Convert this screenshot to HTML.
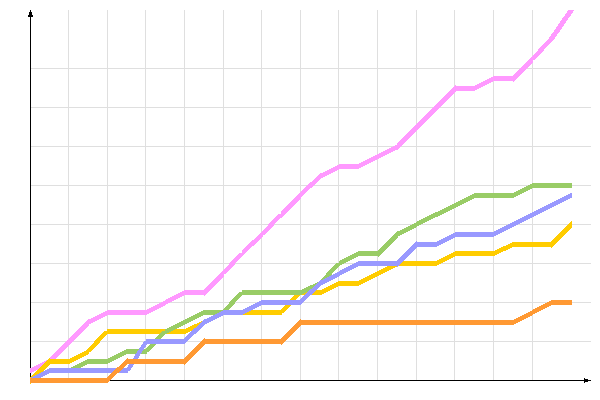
<!DOCTYPE html>
<html><head><meta charset="utf-8"><title>chart</title>
<style>html,body{margin:0;padding:0;background:#fff;font-family:"Liberation Sans",sans-serif}svg{display:block}</style>
</head><body>
<svg width="600" height="400" viewBox="0 0 600 400" shape-rendering="crispEdges">
<rect width="600" height="400" fill="#ffffff"/>
<path fill="#000000" d="M28 15h5v2h-5zM29 12h3v3h-3zM30 10h1v2h-1zM30 17h1v351h-1zM30 373h1v4h-1zM110 380h481v1h-481zM584 378h1v1h-1zM584 382h1v1h-1zM584 379h4v1h-4zM584 381h4v1h-4z"/>
<path fill="#ffcc00" d="M30 377h1v1h-1zM30 383h1v1h-1zM31 376h2v1h-2zM32 375h3v1h-3zM33 374h4v1h-4zM34 373h5v1h-5zM35 372h6v1h-6zM36 371h7v1h-7zM37 370h7v1h-7zM38 369h7v1h-7zM39 368h7v1h-7zM40 367h7v1h-7zM41 366h7v1h-7zM42 365h7v1h-7zM43 364h7v1h-7zM44 363h26v1h-26zM45 362h27v1h-27zM46 361h28v1h-28zM47 360h29v1h-29zM48 359h30v1h-30zM49 358h1v1h-1zM70 358h10v1h-10zM72 357h10v1h-10zM74 356h10v1h-10zM76 355h10v1h-10zM78 354h10v1h-10zM80 353h9v1h-9zM82 352h7v1h-7zM84 351h7v1h-7zM86 350h6v1h-6zM87 349h6v1h-6zM88 348h6v1h-6zM89 347h6v1h-6zM90 346h6v1h-6zM91 345h6v1h-6zM92 344h6v1h-6zM93 343h6v1h-6zM94 341h6v2h-6zM95 340h6v1h-6zM96 339h6v1h-6zM97 338h6v1h-6zM98 337h6v1h-6zM99 336h6v1h-6zM100 335h6v1h-6zM101 334h6v1h-6zM102 333h58v1h-58zM103 332h58v1h-58zM104 331h58v1h-58zM107 329h58v2h-58zM167 333h19v1h-19zM169 332h19v1h-19zM171 331h19v1h-19zM173 330h19v1h-19zM175 329h18v1h-18zM186 328h8v1h-8zM188 327h8v1h-8zM190 326h7v1h-7zM192 325h6v1h-6zM194 324h5v1h-5zM197 323h3v1h-3zM199 322h2v1h-2zM201 321h1v1h-1zM243 314h39v1h-39zM245 313h37v1h-37zM247 312h37v1h-37zM249 311h36v1h-36zM251 310h35v1h-35zM281 309h6v1h-6zM282 308h6v1h-6zM283 307h6v1h-6zM284 306h6v1h-6zM285 305h6v1h-6zM290 299h6v1h-6zM291 298h6v1h-6zM292 297h6v1h-6zM293 296h6v1h-6zM294 295h6v1h-6zM302 294h3v1h-3zM304 293h2v1h-2zM306 292h1v1h-1zM312 294h10v1h-10zM313 293h11v1h-11zM314 292h12v1h-12zM315 291h13v1h-13zM316 290h14v1h-14zM322 289h10v1h-10zM324 288h10v1h-10zM326 287h10v1h-10zM328 286h10v1h-10zM330 285h29v1h-29zM332 284h29v1h-29zM334 283h29v1h-29zM336 282h29v1h-29zM338 281h29v1h-29zM359 280h10v1h-10zM361 279h10v1h-10zM363 278h10v1h-10zM365 277h10v1h-10zM367 276h10v1h-10zM369 275h10v1h-10zM371 274h10v1h-10zM373 273h10v1h-10zM375 272h10v1h-10zM377 271h10v1h-10zM379 270h10v1h-10zM381 269h10v1h-10zM383 268h10v1h-10zM385 267h10v1h-10zM387 266h10v1h-10zM399 265h38v1h-38zM400 264h39v1h-39zM401 263h40v1h-40zM402 262h41v1h-41zM403 261h42v1h-42zM437 260h10v1h-10zM439 259h10v1h-10zM441 258h10v1h-10zM443 257h10v1h-10zM445 256h10v1h-10zM447 255h48v1h-48zM449 254h48v1h-48zM451 253h48v1h-48zM453 252h48v1h-48zM455 251h48v1h-48zM495 250h11v1h-11zM497 249h11v1h-11zM499 248h11v1h-11zM501 247h11v1h-11zM503 246h50v1h-50zM506 245h48v1h-48zM508 244h47v1h-47zM510 243h46v1h-46zM512 242h45v1h-45zM551 247h1v1h-1zM551 241h7v1h-7zM552 240h7v1h-7zM553 239h7v1h-7zM554 238h7v1h-7zM555 237h7v1h-7zM556 236h7v1h-7zM557 235h7v1h-7zM558 234h7v1h-7zM559 233h7v1h-7zM560 232h7v1h-7zM561 231h7v1h-7zM562 230h7v1h-7zM563 229h7v1h-7zM564 228h7v1h-7zM565 227h7v1h-7zM566 226h6v1h-6zM567 225h5v1h-5zM568 224h4v1h-4zM569 223h3v1h-3zM570 222h2v1h-2zM571 221h1v1h-1z"/>
<path fill="#ff99ff" d="M30 372h2v1h-2zM30 371h4v1h-4zM30 370h6v1h-6zM30 369h8v1h-8zM30 368h9v1h-9zM32 367h8v1h-8zM34 366h7v1h-7zM36 365h6v1h-6zM38 364h5v1h-5zM40 363h4v1h-4zM42 362h3v1h-3zM44 361h2v1h-2zM46 360h1v1h-1zM50 358h6v1h-6zM50 357h7v1h-7zM51 356h7v1h-7zM52 355h7v1h-7zM53 354h7v1h-7zM54 353h7v1h-7zM55 352h7v1h-7zM56 351h7v1h-7zM57 350h7v1h-7zM58 349h7v1h-7zM59 348h7v1h-7zM60 347h7v1h-7zM61 346h7v1h-7zM62 345h7v1h-7zM63 344h7v1h-7zM64 343h7v1h-7zM65 342h7v1h-7zM66 341h7v1h-7zM67 340h7v1h-7zM68 339h7v1h-7zM69 338h7v1h-7zM70 337h7v1h-7zM71 336h7v1h-7zM72 335h7v1h-7zM73 334h7v1h-7zM74 333h7v1h-7zM75 332h7v1h-7zM76 331h7v1h-7zM77 330h7v1h-7zM78 329h7v1h-7zM79 328h7v1h-7zM80 327h7v1h-7zM81 326h7v1h-7zM82 325h7v1h-7zM83 324h6v1h-6zM84 323h7v1h-7zM85 322h8v1h-8zM86 321h9v1h-9zM87 320h10v1h-10zM88 319h11v1h-11zM91 318h10v1h-10zM93 317h10v1h-10zM95 316h10v1h-10zM97 315h10v1h-10zM99 314h48v1h-48zM101 313h48v1h-48zM103 312h48v1h-48zM105 311h48v1h-48zM107 310h48v1h-48zM147 309h10v1h-10zM149 308h10v1h-10zM151 307h10v1h-10zM153 306h10v1h-10zM155 305h10v1h-10zM157 304h9v1h-9zM159 303h9v1h-9zM161 302h9v1h-9zM163 301h9v1h-9zM165 300h9v1h-9zM166 299h10v1h-10zM168 298h10v1h-10zM170 297h10v1h-10zM172 296h10v1h-10zM174 295h10v1h-10zM176 294h30v1h-30zM178 293h29v1h-29zM180 292h28v1h-28zM182 291h27v1h-27zM184 290h26v1h-26zM204 295h1v1h-1zM204 289h7v1h-7zM205 288h7v1h-7zM206 287h7v1h-7zM207 286h7v1h-7zM208 285h7v1h-7zM209 284h7v1h-7zM210 283h7v1h-7zM211 282h7v1h-7zM212 281h7v1h-7zM213 280h7v1h-7zM214 279h7v1h-7zM215 278h7v1h-7zM216 277h7v1h-7zM217 276h7v1h-7zM218 275h6v1h-6zM219 274h5v1h-5zM220 273h6v1h-6zM221 272h6v1h-6zM222 271h6v1h-6zM223 270h6v1h-6zM224 269h6v1h-6zM225 268h6v1h-6zM226 267h6v1h-6zM227 266h6v1h-6zM228 265h6v1h-6zM229 263h6v2h-6zM230 262h6v1h-6zM231 261h6v1h-6zM232 260h6v1h-6zM233 259h6v1h-6zM234 258h6v1h-6zM235 257h6v1h-6zM236 256h6v1h-6zM237 255h6v1h-6zM238 254h6v1h-6zM239 253h6v1h-6zM242 252h4v1h-4zM242 251h5v1h-5zM242 250h6v1h-6zM243 249h6v1h-6zM244 248h6v1h-6zM245 247h6v1h-6zM246 246h6v1h-6zM247 245h7v1h-7zM248 244h7v1h-7zM249 243h7v1h-7zM250 242h7v1h-7zM251 241h7v1h-7zM252 240h7v1h-7zM254 239h6v1h-6zM255 238h6v1h-6zM256 237h6v1h-6zM257 236h6v1h-6zM258 235h5v1h-5zM259 234h6v1h-6zM260 233h6v1h-6zM261 232h6v1h-6zM262 231h6v1h-6zM263 230h6v1h-6zM264 229h6v1h-6zM265 228h6v1h-6zM266 227h6v1h-6zM267 226h6v1h-6zM268 224h6v2h-6zM269 223h6v1h-6zM270 222h6v1h-6zM271 221h6v1h-6zM272 220h6v1h-6zM273 219h6v1h-6zM274 218h6v1h-6zM275 217h7v1h-7zM276 216h7v1h-7zM277 215h7v1h-7zM278 214h7v1h-7zM281 213h5v1h-5zM281 212h6v1h-6zM281 211h7v1h-7zM282 210h7v1h-7zM283 209h7v1h-7zM284 208h7v1h-7zM285 207h7v1h-7zM286 206h7v1h-7zM287 205h7v1h-7zM288 204h7v1h-7zM289 203h7v1h-7zM290 202h7v1h-7zM291 201h7v1h-7zM292 200h7v1h-7zM293 199h7v1h-7zM294 198h7v1h-7zM295 197h6v1h-6zM296 196h6v1h-6zM297 195h6v1h-6zM298 194h6v1h-6zM299 193h6v1h-6zM300 192h6v1h-6zM301 191h6v1h-6zM302 190h6v1h-6zM303 189h6v1h-6zM304 188h6v1h-6zM305 187h7v1h-7zM306 186h7v1h-7zM307 185h7v1h-7zM308 184h7v1h-7zM309 183h7v1h-7zM310 182h7v1h-7zM312 181h6v1h-6zM313 180h6v1h-6zM314 179h6v1h-6zM315 178h6v1h-6zM316 177h7v1h-7zM317 176h8v1h-8zM318 175h9v1h-9zM319 174h10v1h-10zM320 173h11v1h-11zM323 172h10v1h-10zM325 171h10v1h-10zM327 170h10v1h-10zM329 169h10v1h-10zM331 168h28v1h-28zM333 167h28v1h-28zM335 166h28v1h-28zM337 165h28v1h-28zM339 164h28v1h-28zM359 163h10v1h-10zM361 162h10v1h-10zM363 161h10v1h-10zM365 160h10v1h-10zM367 159h10v1h-10zM369 158h10v1h-10zM371 157h10v1h-10zM373 156h10v1h-10zM375 155h10v1h-10zM377 154h10v1h-10zM379 153h10v1h-10zM381 152h10v1h-10zM383 151h10v1h-10zM385 150h10v1h-10zM387 149h11v1h-11zM389 148h10v1h-10zM391 147h9v1h-9zM393 146h8v1h-8zM395 145h7v1h-7zM397 144h6v1h-6zM397 143h7v1h-7zM398 142h7v1h-7zM399 141h7v1h-7zM400 140h7v1h-7zM401 139h7v1h-7zM402 138h7v1h-7zM403 137h7v1h-7zM404 136h7v1h-7zM405 135h7v1h-7zM406 134h7v1h-7zM407 133h7v1h-7zM408 132h7v1h-7zM409 131h7v1h-7zM410 130h7v1h-7zM411 129h7v1h-7zM412 128h7v1h-7zM413 127h7v1h-7zM414 126h7v1h-7zM415 125h7v1h-7zM416 124h7v1h-7zM417 123h7v1h-7zM418 122h7v1h-7zM419 121h7v1h-7zM420 120h7v1h-7zM421 119h7v1h-7zM422 118h7v1h-7zM423 117h7v1h-7zM424 116h7v1h-7zM425 115h7v1h-7zM426 114h7v1h-7zM427 113h7v1h-7zM428 112h7v1h-7zM429 111h7v1h-7zM430 110h7v1h-7zM431 109h7v1h-7zM432 108h7v1h-7zM433 107h7v1h-7zM434 106h7v1h-7zM435 105h7v1h-7zM436 104h7v1h-7zM437 103h7v1h-7zM438 102h7v1h-7zM439 101h7v1h-7zM440 100h7v1h-7zM441 99h7v1h-7zM442 98h7v1h-7zM443 97h7v1h-7zM444 96h7v1h-7zM445 95h7v1h-7zM446 94h7v1h-7zM447 93h7v1h-7zM448 92h7v1h-7zM449 91h7v1h-7zM450 90h25v1h-25zM451 89h26v1h-26zM452 88h27v1h-27zM453 87h28v1h-28zM454 86h29v1h-29zM455 85h1v1h-1zM475 85h10v1h-10zM477 84h10v1h-10zM479 83h10v1h-10zM481 82h10v1h-10zM483 81h10v1h-10zM485 80h30v1h-30zM487 79h29v1h-29zM489 78h28v1h-28zM491 77h27v1h-27zM493 76h26v1h-26zM513 81h1v1h-1zM513 75h7v1h-7zM514 74h7v1h-7zM515 73h7v1h-7zM516 72h7v1h-7zM517 71h7v1h-7zM518 70h7v1h-7zM519 69h7v1h-7zM520 68h7v1h-7zM521 67h7v1h-7zM522 66h7v1h-7zM523 65h7v1h-7zM524 64h7v1h-7zM525 63h7v1h-7zM526 62h7v1h-7zM527 61h6v1h-6zM528 60h5v1h-5zM529 59h6v1h-6zM530 58h6v1h-6zM531 57h6v1h-6zM532 56h6v1h-6zM533 55h6v1h-6zM534 54h6v1h-6zM535 53h6v1h-6zM536 52h6v1h-6zM537 51h6v1h-6zM538 49h6v2h-6zM539 48h6v1h-6zM540 47h6v1h-6zM541 46h6v1h-6zM542 45h6v1h-6zM543 44h6v1h-6zM544 43h6v1h-6zM545 42h6v1h-6zM546 41h6v1h-6zM547 40h6v1h-6zM548 39h6v1h-6zM549 37h6v2h-6zM550 36h6v1h-6zM551 34h6v2h-6zM552 33h6v1h-6zM553 32h6v1h-6zM554 30h6v2h-6zM555 29h6v1h-6zM556 27h6v2h-6zM557 26h6v1h-6zM558 24h6v2h-6zM559 23h6v1h-6zM560 21h6v2h-6zM561 20h6v1h-6zM562 18h6v2h-6zM563 17h6v1h-6zM564 16h6v1h-6zM565 14h6v2h-6zM566 13h6v1h-6zM567 11h6v2h-6zM568 10h6v1h-6z"/>
<path fill="#ff9933" d="M30 382h78v1h-78zM30 381h79v1h-79zM30 380h80v1h-80zM30 379h81v1h-81zM30 378h82v1h-82zM107 377h6v1h-6zM108 376h6v1h-6zM109 375h6v1h-6zM110 374h6v1h-6zM111 373h6v1h-6zM112 372h7v1h-7zM113 371h7v1h-7zM114 370h7v1h-7zM115 369h7v1h-7zM116 368h7v1h-7zM117 367h7v1h-7zM119 366h6v1h-6zM120 365h6v1h-6zM121 364h6v1h-6zM122 363h64v1h-64zM123 362h64v1h-64zM124 361h64v1h-64zM125 360h64v1h-64zM126 359h64v1h-64zM127 358h1v1h-1zM184 364h1v1h-1zM184 358h7v1h-7zM185 357h7v1h-7zM186 356h7v1h-7zM187 355h7v1h-7zM188 354h7v1h-7zM189 353h7v1h-7zM190 352h7v1h-7zM191 351h7v1h-7zM192 350h7v1h-7zM193 349h7v1h-7zM194 348h7v1h-7zM195 347h7v1h-7zM196 346h7v1h-7zM197 345h7v1h-7zM198 344h7v1h-7zM199 343h84v1h-84zM200 342h84v1h-84zM201 341h84v1h-84zM202 340h84v1h-84zM203 339h84v1h-84zM204 338h1v1h-1zM281 344h1v1h-1zM281 338h7v1h-7zM282 337h7v1h-7zM283 336h7v1h-7zM284 335h7v1h-7zM285 334h7v1h-7zM286 333h7v1h-7zM287 332h7v1h-7zM288 331h7v1h-7zM289 330h7v1h-7zM290 329h7v1h-7zM291 328h7v1h-7zM292 327h7v1h-7zM293 326h7v1h-7zM294 325h7v1h-7zM295 324h219v1h-219zM296 323h220v1h-220zM297 322h221v1h-221zM298 321h222v1h-222zM299 320h223v1h-223zM300 319h1v1h-1zM514 319h10v1h-10zM516 318h10v1h-10zM518 317h10v1h-10zM520 316h10v1h-10zM522 315h10v1h-10zM524 314h9v1h-9zM526 313h9v1h-9zM528 312h9v1h-9zM530 311h9v1h-9zM532 310h9v1h-9zM533 309h10v1h-10zM535 308h10v1h-10zM537 307h10v1h-10zM539 306h10v1h-10zM541 305h10v1h-10zM543 304h29v1h-29zM545 303h27v1h-27zM547 302h25v1h-25zM549 301h23v1h-23zM551 300h21v1h-21z"/>
<path fill="#9999ff" d="M31 377h10v1h-10zM33 376h10v1h-10zM35 375h10v1h-10zM37 374h10v1h-10zM39 373h10v1h-10zM41 372h71v1h-71zM43 371h70v1h-70zM45 370h69v1h-69zM47 369h68v1h-68zM49 368h67v1h-67zM119 372h9v1h-9zM120 371h8v1h-8zM121 370h9v1h-9zM122 369h9v1h-9zM123 368h8v1h-8zM127 367h5v1h-5zM128 365h5v2h-5zM129 364h5v1h-5zM133 358h5v1h-5zM134 356h5v2h-5zM135 354h5v2h-5zM136 353h5v1h-5zM137 351h5v2h-5zM138 350h5v1h-5zM139 348h5v2h-5zM140 347h5v1h-5zM141 345h5v2h-5zM142 344h5v1h-5zM143 343h42v1h-42zM143 342h43v1h-43zM144 341h43v1h-43zM146 340h42v1h-42zM146 339h43v1h-43zM184 338h6v1h-6zM185 337h6v1h-6zM186 336h6v1h-6zM187 335h6v1h-6zM188 334h6v1h-6zM189 333h7v1h-7zM190 332h7v1h-7zM191 331h7v1h-7zM192 330h7v1h-7zM193 329h7v1h-7zM194 328h7v1h-7zM196 327h6v1h-6zM197 326h6v1h-6zM198 325h6v1h-6zM199 324h6v1h-6zM200 323h7v1h-7zM201 322h8v1h-8zM202 321h9v1h-9zM203 320h10v1h-10zM204 319h11v1h-11zM207 318h10v1h-10zM209 317h10v1h-10zM211 316h10v1h-10zM213 315h10v1h-10zM215 314h28v1h-28zM217 313h28v1h-28zM219 312h28v1h-28zM221 311h28v1h-28zM223 310h28v1h-28zM243 309h10v1h-10zM245 308h10v1h-10zM247 307h10v1h-10zM249 306h10v1h-10zM251 305h10v1h-10zM253 304h48v1h-48zM255 303h47v1h-47zM257 302h46v1h-46zM259 301h45v1h-45zM261 300h44v1h-44zM300 299h6v1h-6zM301 298h6v1h-6zM302 297h6v1h-6zM303 296h6v1h-6zM304 295h6v1h-6zM305 294h7v1h-7zM306 293h7v1h-7zM307 292h7v1h-7zM308 291h7v1h-7zM309 290h7v1h-7zM310 289h7v1h-7zM312 288h6v1h-6zM313 287h6v1h-6zM314 286h6v1h-6zM315 285h6v1h-6zM316 284h7v1h-7zM317 283h8v1h-8zM318 282h9v1h-9zM319 281h10v1h-10zM320 280h11v1h-11zM323 279h10v1h-10zM325 278h10v1h-10zM327 277h10v1h-10zM329 276h10v1h-10zM331 275h9v1h-9zM333 274h9v1h-9zM335 273h9v1h-9zM337 272h9v1h-9zM339 271h9v1h-9zM340 270h10v1h-10zM342 269h10v1h-10zM344 268h10v1h-10zM346 267h10v1h-10zM348 266h10v1h-10zM350 265h49v1h-49zM352 264h48v1h-48zM354 263h47v1h-47zM356 262h46v1h-46zM358 261h45v1h-45zM397 266h1v1h-1zM397 260h7v1h-7zM398 259h7v1h-7zM399 258h7v1h-7zM400 257h7v1h-7zM401 256h7v1h-7zM402 255h7v1h-7zM403 254h7v1h-7zM404 253h7v1h-7zM405 252h7v1h-7zM406 251h7v1h-7zM407 250h7v1h-7zM408 249h7v1h-7zM409 248h7v1h-7zM410 247h7v1h-7zM411 246h26v1h-26zM412 245h27v1h-27zM413 244h28v1h-28zM414 243h29v1h-29zM415 242h30v1h-30zM416 241h1v1h-1zM437 241h10v1h-10zM439 240h10v1h-10zM441 239h10v1h-10zM443 238h10v1h-10zM445 237h10v1h-10zM447 236h47v1h-47zM449 235h47v1h-47zM451 234h47v1h-47zM453 233h47v1h-47zM455 232h47v1h-47zM494 231h10v1h-10zM496 230h10v1h-10zM498 229h10v1h-10zM500 228h10v1h-10zM502 227h10v1h-10zM504 226h10v1h-10zM506 225h10v1h-10zM508 224h10v1h-10zM510 223h10v1h-10zM512 222h10v1h-10zM514 221h10v1h-10zM516 220h10v1h-10zM518 219h10v1h-10zM520 218h10v1h-10zM522 217h10v1h-10zM524 216h10v1h-10zM526 215h10v1h-10zM528 214h10v1h-10zM530 213h10v1h-10zM532 212h10v1h-10zM534 211h10v1h-10zM536 210h10v1h-10zM538 209h10v1h-10zM540 208h10v1h-10zM542 207h10v1h-10zM544 206h10v1h-10zM546 205h10v1h-10zM548 204h10v1h-10zM550 203h10v1h-10zM552 202h10v1h-10zM554 201h10v1h-10zM556 200h10v1h-10zM558 199h10v1h-10zM560 198h10v1h-10zM562 197h10v1h-10zM564 196h8v1h-8zM566 195h6v1h-6zM568 194h4v1h-4zM570 193h2v1h-2z"/>
<path fill="#dfdfdf" d="M31 341h35v1h-35zM31 302h130v1h-130zM31 263h198v1h-198zM31 224h237v1h-237zM31 185h276v1h-276zM31 146h362v1h-362zM31 107h402v1h-402zM31 68h489v1h-489zM68 10h1v58h-1zM68 69h1v38h-1zM68 108h1v38h-1zM68 147h1v38h-1zM68 186h1v38h-1zM68 225h1v38h-1zM68 264h1v38h-1zM68 303h1v36h-1zM68 346h1v13h-1zM68 364h1v4h-1zM68 373h1v5h-1zM73 341h21v1h-21zM100 341h44v1h-44zM107 10h1v58h-1zM107 69h1v38h-1zM107 108h1v38h-1zM107 147h1v38h-1zM107 186h1v38h-1zM107 225h1v38h-1zM107 264h1v38h-1zM107 303h1v7h-1zM107 315h1v14h-1zM107 334h1v7h-1zM107 342h1v17h-1zM107 364h1v4h-1zM107 373h1v4h-1zM145 10h1v58h-1zM145 69h1v38h-1zM145 108h1v38h-1zM145 147h1v38h-1zM145 186h1v38h-1zM145 225h1v38h-1zM145 264h1v38h-1zM145 303h1v7h-1zM145 315h1v14h-1zM145 334h1v7h-1zM145 347h1v2h-1zM145 354h1v5h-1zM145 364h1v16h-1zM170 302h59v1h-59zM184 10h1v58h-1zM184 69h1v38h-1zM184 108h1v38h-1zM184 147h1v38h-1zM184 186h1v38h-1zM184 225h1v38h-1zM184 264h1v26h-1zM184 295h1v7h-1zM184 303h1v17h-1zM184 325h1v4h-1zM184 334h1v4h-1zM184 344h1v14h-1zM184 365h1v15h-1zM187 341h14v1h-14zM223 10h1v58h-1zM223 69h1v38h-1zM223 108h1v38h-1zM223 147h1v38h-1zM223 186h1v38h-1zM223 225h1v38h-1zM223 264h1v6h-1zM223 277h1v25h-1zM223 303h1v6h-1zM223 315h1v24h-1zM223 344h1v36h-1zM235 302h22v1h-22zM235 263h101v1h-101zM261 10h1v58h-1zM261 69h1v38h-1zM261 108h1v38h-1zM261 147h1v38h-1zM261 186h1v38h-1zM261 225h1v7h-1zM261 238h1v25h-1zM261 264h1v26h-1zM261 295h1v5h-1zM261 305h1v5h-1zM261 315h1v24h-1zM261 344h1v36h-1zM274 224h138v1h-138zM285 341h306v1h-306zM300 10h1v58h-1zM300 69h1v38h-1zM300 108h1v38h-1zM300 147h1v38h-1zM300 186h1v6h-1zM300 199h1v25h-1zM300 225h1v38h-1zM300 264h1v26h-1zM300 295h1v4h-1zM300 305h1v14h-1zM300 326h1v15h-1zM300 342h1v38h-1zM303 302h244v1h-244zM314 185h214v1h-214zM338 10h1v58h-1zM338 69h1v38h-1zM338 108h1v38h-1zM338 147h1v18h-1zM338 170h1v15h-1zM338 186h1v38h-1zM338 225h1v38h-1zM338 267h1v5h-1zM338 277h1v4h-1zM338 286h1v16h-1zM338 303h1v17h-1zM338 325h1v16h-1zM338 342h1v38h-1zM344 263h10v1h-10zM377 10h1v58h-1zM377 69h1v38h-1zM377 108h1v38h-1zM377 147h1v7h-1zM377 159h1v26h-1zM377 186h1v38h-1zM377 225h1v26h-1zM377 256h1v5h-1zM377 266h1v5h-1zM377 276h1v26h-1zM377 303h1v17h-1zM377 325h1v16h-1zM377 342h1v38h-1zM401 146h190v1h-190zM416 10h1v58h-1zM416 69h1v38h-1zM416 108h1v16h-1zM416 131h1v15h-1zM416 147h1v38h-1zM416 186h1v36h-1zM416 227h1v14h-1zM416 248h1v13h-1zM416 266h1v36h-1zM416 303h1v17h-1zM416 325h1v16h-1zM416 342h1v38h-1zM421 224h87v1h-87zM440 107h151v1h-151zM441 263h150v1h-150zM454 10h1v58h-1zM454 69h1v17h-1zM454 93h1v14h-1zM454 108h1v38h-1zM454 147h1v38h-1zM454 186h1v17h-1zM454 208h1v16h-1zM454 225h1v8h-1zM454 238h1v14h-1zM454 257h1v6h-1zM454 264h1v38h-1zM454 303h1v17h-1zM454 325h1v16h-1zM454 342h1v38h-1zM493 10h1v58h-1zM493 69h1v7h-1zM493 81h1v26h-1zM493 108h1v38h-1zM493 147h1v38h-1zM493 186h1v7h-1zM493 198h1v26h-1zM493 225h1v7h-1zM493 237h1v14h-1zM493 256h1v7h-1zM493 264h1v38h-1zM493 303h1v17h-1zM493 325h1v16h-1zM493 342h1v38h-1zM518 224h50v1h-50zM527 68h64v1h-64zM532 10h1v46h-1zM532 63h1v5h-1zM532 69h1v38h-1zM532 108h1v38h-1zM532 147h1v36h-1zM532 188h1v24h-1zM532 217h1v7h-1zM532 225h1v17h-1zM532 247h1v16h-1zM532 264h1v38h-1zM532 303h1v7h-1zM532 315h1v26h-1zM532 342h1v38h-1zM572 185h19v1h-19zM572 224h19v1h-19zM572 302h19v1h-19z"/>
<path fill="#99cc66" d="M71 367h10v1h-10zM73 366h10v1h-10zM75 365h10v1h-10zM77 364h10v1h-10zM79 363h29v1h-29zM81 362h29v1h-29zM83 361h29v1h-29zM85 360h29v1h-29zM87 359h29v1h-29zM108 358h10v1h-10zM110 357h10v1h-10zM112 356h10v1h-10zM114 355h10v1h-10zM116 354h10v1h-10zM118 353h18v1h-18zM120 352h17v1h-17zM122 351h15v1h-15zM124 350h14v1h-14zM126 349h13v1h-13zM141 353h6v1h-6zM142 352h5v1h-5zM142 351h7v1h-7zM143 350h7v1h-7zM144 349h7v1h-7zM146 348h6v1h-6zM147 347h6v1h-6zM148 346h6v1h-6zM149 345h6v1h-6zM150 344h6v1h-6zM155 338h6v1h-6zM156 337h6v1h-6zM157 336h6v1h-6zM158 335h6v1h-6zM159 334h6v1h-6zM160 333h7v1h-7zM161 332h8v1h-8zM162 331h9v1h-9zM165 330h8v1h-8zM165 329h10v1h-10zM167 328h10v1h-10zM169 327h10v1h-10zM171 326h10v1h-10zM173 325h10v1h-10zM175 324h10v1h-10zM177 323h10v1h-10zM179 322h10v1h-10zM181 321h10v1h-10zM183 320h10v1h-10zM185 319h10v1h-10zM187 318h10v1h-10zM189 317h10v1h-10zM191 316h10v1h-10zM193 315h10v1h-10zM195 314h20v1h-20zM197 313h20v1h-20zM199 312h20v1h-20zM201 311h20v1h-20zM203 310h20v1h-20zM223 309h6v1h-6zM224 308h6v1h-6zM225 307h6v1h-6zM226 306h6v1h-6zM227 305h6v1h-6zM228 304h6v1h-6zM229 302h6v2h-6zM230 301h6v1h-6zM231 300h6v1h-6zM232 299h6v1h-6zM233 298h6v1h-6zM234 297h6v1h-6zM235 296h6v1h-6zM236 295h6v1h-6zM237 294h65v1h-65zM238 293h66v1h-66zM239 292h67v1h-67zM242 291h66v1h-66zM242 290h67v1h-67zM302 289h8v1h-8zM304 288h8v1h-8zM306 287h7v1h-7zM308 286h6v1h-6zM310 285h5v1h-5zM313 284h3v1h-3zM315 283h2v1h-2zM317 282h1v1h-1zM321 279h2v1h-2zM322 278h3v1h-3zM323 277h4v1h-4zM324 276h5v1h-5zM325 275h6v1h-6zM326 273h6v2h-6zM327 272h6v1h-6zM328 271h6v1h-6zM329 270h6v1h-6zM330 269h6v1h-6zM331 268h6v1h-6zM332 267h6v1h-6zM333 266h6v1h-6zM334 265h6v1h-6zM335 264h7v1h-7zM336 263h8v1h-8zM339 262h7v1h-7zM339 261h9v1h-9zM340 260h10v1h-10zM342 259h10v1h-10zM344 258h10v1h-10zM346 257h10v1h-10zM348 256h10v1h-10zM350 255h30v1h-30zM352 254h29v1h-29zM354 253h28v1h-28zM356 252h27v1h-27zM358 251h26v1h-26zM378 256h1v1h-1zM378 250h7v1h-7zM379 249h7v1h-7zM380 248h7v1h-7zM381 247h7v1h-7zM382 246h7v1h-7zM383 245h7v1h-7zM384 244h7v1h-7zM385 243h7v1h-7zM386 242h7v1h-7zM387 241h7v1h-7zM388 240h7v1h-7zM389 239h7v1h-7zM390 238h7v1h-7zM391 237h7v1h-7zM392 236h6v1h-6zM393 235h7v1h-7zM394 234h8v1h-8zM395 233h9v1h-9zM396 232h10v1h-10zM397 231h11v1h-11zM400 230h10v1h-10zM402 229h10v1h-10zM404 228h10v1h-10zM406 227h10v1h-10zM408 226h9v1h-9zM410 225h9v1h-9zM412 224h9v1h-9zM414 223h9v1h-9zM416 222h9v1h-9zM417 221h10v1h-10zM419 220h10v1h-10zM421 219h10v1h-10zM423 218h10v1h-10zM425 217h10v1h-10zM427 216h11v1h-11zM429 215h11v1h-11zM431 214h11v1h-11zM433 213h11v1h-11zM435 212h11v1h-11zM438 211h10v1h-10zM440 210h10v1h-10zM442 209h10v1h-10zM444 208h10v1h-10zM446 207h10v1h-10zM448 206h10v1h-10zM450 205h10v1h-10zM452 204h10v1h-10zM454 203h10v1h-10zM456 202h10v1h-10zM458 201h10v1h-10zM460 200h10v1h-10zM462 199h10v1h-10zM464 198h10v1h-10zM466 197h48v1h-48zM468 196h48v1h-48zM470 195h48v1h-48zM472 194h48v1h-48zM474 193h48v1h-48zM514 192h10v1h-10zM516 191h10v1h-10zM518 190h10v1h-10zM520 189h10v1h-10zM522 188h10v1h-10zM524 187h48v1h-48zM526 186h46v1h-46zM528 185h44v1h-44zM530 184h42v1h-42zM532 183h40v1h-40z"/>
</svg>
</body></html>
